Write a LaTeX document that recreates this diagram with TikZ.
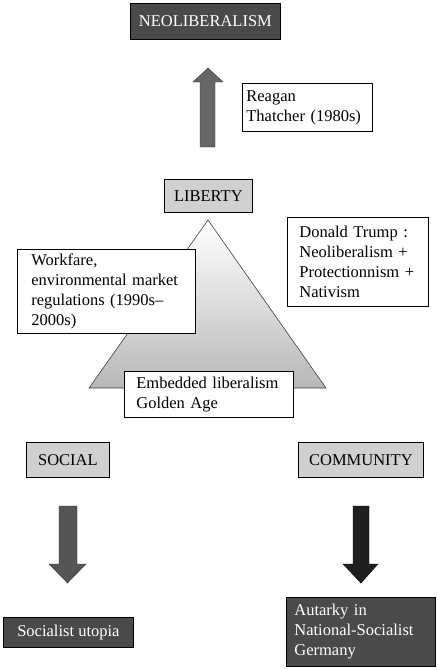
\documentclass[tikz,border=0pt]{standalone}
\usepackage{fontspec}
\setmainfont{Liberation Serif}
\definecolor{darkfill}{HTML}{4A4A4A}
\definecolor{lightfill}{HTML}{D0D0D0}
\definecolor{uparrow}{HTML}{666666}
\definecolor{socialarrow}{HTML}{555555}
\definecolor{communityarrow}{HTML}{1F1F1F}
\tikzset{
  box/.style={draw=black, line width=0.8pt, anchor=north west, inner sep=0pt,
    font=\fontsize{16.5}{20}\selectfont},
  lightbox/.style={box, fill=lightfill},
  darkbox/.style={box, fill=darkfill, text=white},
  notebox/.style={box, fill=white, align=left},
}
\begin{document}
\begin{tikzpicture}[x=1pt,y=-1pt]
        \useasboundingbox (0,0) rectangle (438,669);

        % Triangolo con sfumatura
        \shade[top color=white, bottom color=black!28, draw=black!75, line width=0.6pt]
          (208,220) -- (326,388) -- (89,388) -- cycle;

        % Riquadri principali
        \node[darkbox, minimum width=150, minimum height=36] (neolib) at (130,3) {NEOLIBERALISM};
        \node[lightbox, minimum width=88, minimum height=33] (liberty) at (164,179) {LIBERTY};
        \node[lightbox, minimum width=83, minimum height=35] (social) at (26,442) {SOCIAL};
        \node[lightbox, minimum width=125, minimum height=35] (community) at (298,442) {COMMUNITY};
        \node[darkbox, minimum width=130, minimum height=30] (utopia) at (3,617) {Socialist utopia};
        \node[darkbox, align=left, text width=133, inner xsep=8, minimum height=69] (autarky) at (286,597)
          {Autarky in\\National-Socialist\\Germany};

        % Riquadri di commento
        \node[notebox, text width=122, inner xsep=4, minimum height=48] (reagan) at (242,83)
          {Reagan\\Thatcher (1980s)};
        \node[notebox, text width=150, inner xsep=14, minimum height=84] (workfare) at (17,249)
          {Workfare,\\environmental market\\regulations (1990s--\\2000s)};
        \node[notebox, text width=117, inner xsep=12, minimum height=89] (trump) at (287,217)
          {Donald Trump :\\Neoliberalism +\\Protectionnism +\\Nativism};
        \node[notebox, text width=145, inner xsep=12, minimum height=46] (embedded) at (124,371)
          {Embedded liberalism\\Golden Age};

        % Frecce
        \fill[uparrow, draw=black!80, line width=0.4pt]
          (200,147) -- (200,82) -- (193,82) -- (208,68) -- (223,82) -- (215,82) -- (215,147) -- cycle;
        \fill[socialarrow, draw=black!80, line width=0.4pt]
          (59,506) -- (77,506) -- (77,564) -- (86,564) -- (67.5,583) -- (49,564) -- (59,564) -- cycle;
        \fill[communityarrow, draw=black, line width=0.4pt]
          (353,506) -- (369,506) -- (369,564) -- (378,564) -- (361,583) -- (343,564) -- (353,564) -- cycle;
    \end{tikzpicture}
\end{document}
